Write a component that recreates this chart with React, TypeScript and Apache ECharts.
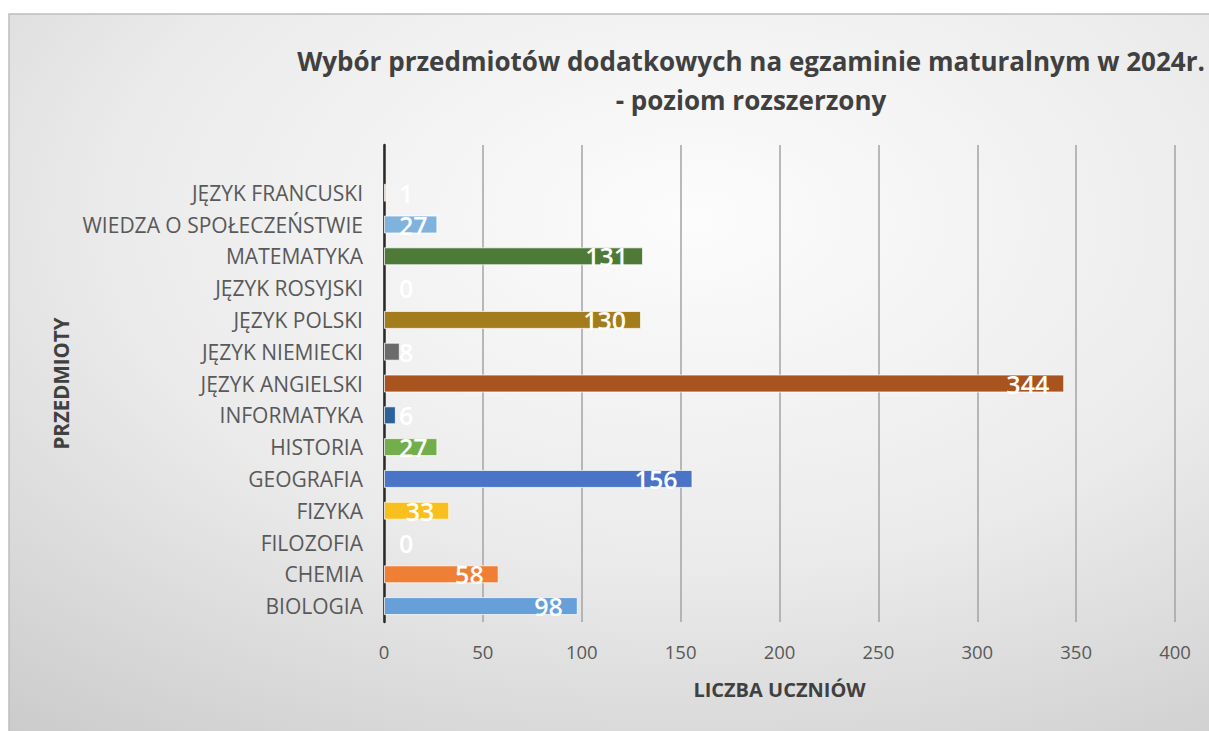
import React, { useEffect, useRef } from "react";
import * as echarts from "echarts";

// Categories from bottom to top; the top slot is an empty category (as in the original Excel chart)
const categories = [
  "BIOLOGIA",
  "CHEMIA",
  "FILOZOFIA",
  "FIZYKA",
  "GEOGRAFIA",
  "HISTORIA",
  "INFORMATYKA",
  "JĘZYK ANGIELSKI",
  "JĘZYK NIEMIECKI",
  "JĘZYK POLSKI",
  "JĘZYK ROSYJSKI",
  "MATEMATYKA",
  "WIEDZA O SPOŁECZEŃSTWIE",
  "JĘZYK FRANCUSKI",
  "",
];
const values: (number | null)[] = [98, 58, 0, 33, 156, 27, 6, 344, 8, 130, 0, 131, 27, 1, null];
const barColors = [
  "#67a0d9",
  "#ef7f35",
  "#a5a5a5",
  "#f9bf1c",
  "#4a74c6",
  "#72ae4a",
  "#2c629a",
  "#a9541f",
  "#6b6b6b",
  "#a37c1c",
  "#2a4a7c",
  "#4e7a38",
  "#80b2de",
  "#f1975a",
];
const xTicks = { min: 0, max: 400, interval: 50 };
const titleText = "Wybór przedmiotów dodatkowych na egzaminie maturalnym w 2024r.\n- poziom rozszerzony";
const xName = "LICZBA UCZNIÓW";
const yName = "PRZEDMIOTY";

export default function App() {
  const ref = useRef<HTMLDivElement>(null);
  useEffect(() => {
    if (!ref.current) return;
    const chart = echarts.init(ref.current, undefined, { renderer: "svg" });
    const font = "'Open Sans', sans-serif";
    const data = values.map((v, i) => {
      if (v === null) return { value: null };
      const small = v < 30;
      return {
        value: v,
        itemStyle: { color: barColors[i], borderWidth: v === 0 ? 0 : 1 },
        label: small
          ? { position: "insideLeft", distance: 15 }
          : { position: "insideRight", distance: 15 },
      };
    });
    chart.setOption({
      animation: false,
      backgroundColor: "#ffffff",
      graphic: [
        {
          type: "rect",
          z: -100,
          silent: true,
          shape: { x: 9, y: 14, width: 1220, height: 730 },
          style: {
            fill: {
              type: "radial",
              x: 0.56,
              y: 0.28,
              r: 1.05,
              colorStops: [
                { offset: 0, color: "#fcfcfc" },
                { offset: 0.45, color: "#ebebeb" },
                { offset: 1, color: "#c0c0c0" },
              ],
            },
            stroke: "#bdbdbd",
            lineWidth: 1.5,
          },
        },
      ],
      title: {
        text: titleText,
        left: 746,
        top: 36,
        textAlign: "center",
        textStyle: {
          fontFamily: font,
          fontSize: 26,
          fontWeight: "bold",
          color: "#404040",
          lineHeight: 39,
        },
      },
      grid: { left: 384, right: 34, top: 145, bottom: 109, containLabel: false },
      xAxis: {
        type: "value",
        min: xTicks.min,
        max: xTicks.max,
        interval: xTicks.interval,
        name: xName,
        nameLocation: "middle",
        nameGap: 57,
        nameTextStyle: { fontFamily: font, fontSize: 20, fontWeight: "bold", color: "#404040" },
        axisLine: { show: false },
        axisTick: { show: false },
        axisLabel: { fontFamily: font, fontSize: 18.5, color: "#595959", margin: 20 },
        splitLine: { show: true, lineStyle: { color: "#a3a3a3", width: 1.5 } },
      },
      yAxis: {
        type: "category",
        data: categories,
        name: yName,
        nameLocation: "middle",
        nameGap: 312,
        nameRotate: 90,
        nameTextStyle: { fontFamily: font, fontSize: 20.5, fontWeight: "bold", color: "#404040" },
        axisLine: { show: true, lineStyle: { color: "#2a2a2a", width: 2.5 } },
        axisTick: { show: false },
        axisLabel: { fontFamily: font, fontSize: 21, color: "#595959", margin: 21 },
        splitLine: { show: false },
      },
      series: [
        {
          type: "bar",
          data,
          barWidth: 18,
          itemStyle: { borderColor: "rgba(255,255,255,0.75)", borderWidth: 1 },
          label: {
            show: true,
            color: "#ffffff",
            fontFamily: font,
            fontSize: 25,
            fontWeight: 600,
          },
        },
      ],
    });
    return () => chart.dispose();
  }, []);
  return (
    <div
      ref={ref}
      style={{ position: "fixed", left: 0, top: 0, width: 1209, height: 731 }}
    />
  );
}
